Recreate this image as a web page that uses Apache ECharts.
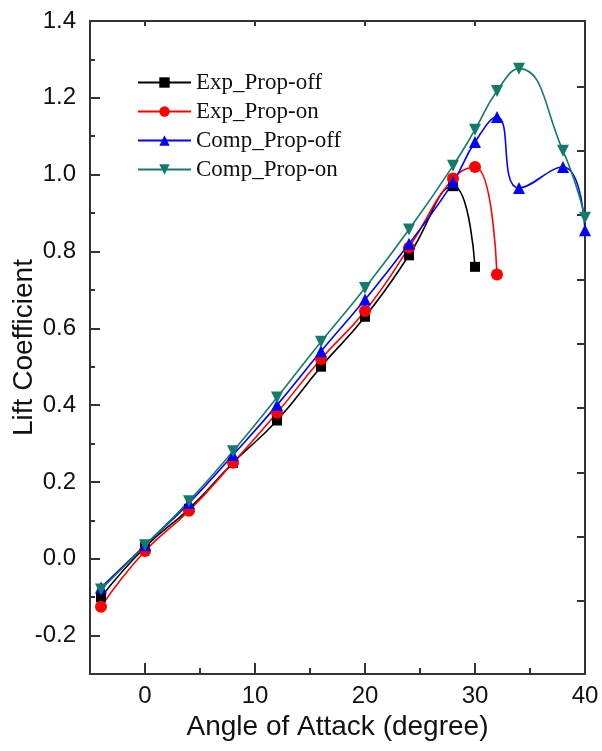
<!DOCTYPE html>
<html>
<head>
<meta charset="utf-8">
<script src="https://cdn.jsdelivr.net/npm/echarts@6/dist/echarts.min.js"></script>
<style>
html,body{margin:0;padding:0;background:#fff;}
#chart_lift{width:602px;height:751px;}
</style>
</head>
<body>
<div id="chart_lift"></div>
<script>
// angle of attack (degree)
var aoa = [-4, 0, 4, 8, 12, 16, 20, 24, 28, 30, 32, 34, 38, 40];
// lift coefficient per series
var expPropOff = [-0.10, 0.03, 0.13, 0.25, 0.36, 0.50, 0.63, 0.79, 0.97, 0.76];
var expPropOn = [-0.125, 0.02, 0.125, 0.25, 0.38, 0.52, 0.645, 0.81, 0.99, 1.02, 0.74];
var compPropOff = [-0.075, 0.035, 0.145, 0.27, 0.40, 0.54, 0.675, 0.82, 0.98, 1.085, 1.15, 0.965, 1.02, 0.855];
var compPropOn = [-0.08, 0.035, 0.15, 0.28, 0.42, 0.565, 0.705, 0.857, 1.023, 1.117, 1.218, 1.276, 1.062, 0.888];

var seriesNames = ['Exp_Prop-off', 'Exp_Prop-on', 'Comp_Prop-off', 'Comp_Prop-on'];
var seriesColors = ['#000000', '#ff0000', '#0000ff', '#137a6c'];
var seriesSymbols = ['rect', 'circle', 'triangle', 'path://M0,0 L10,0 L5,9 Z'];
var seriesSymbolSizes = [10, 12, 12, 12];

// tick labels / tick positions
var xTickLabels = [0, 10, 20, 30, 40];
var xMajorTicks = [0, 10, 20, 30];
var xMinorTicks = [5, 15, 25, 35];
var yTickLabels = [-0.2, 0.0, 0.2, 0.4, 0.6, 0.8, 1.0, 1.2, 1.4];
var yMinorTicks = [-0.1, 0.1, 0.3, 0.5, 0.7, 0.9, 1.1, 1.3];
var rightTicks = [-0.109, 0.058, 0.225, 0.393, 0.560, 0.727, 0.895, 1.062, 1.229];

var axisColor = '#333333';
var chartLift = echarts.init(document.getElementById('chart_lift'));

function pairs(vals) { //把数值和攻角配对
    return vals.map(function (v, i) { return [aoa[i], v]; });
}

function tickAxis(pos, ticks, len, showLine) {
    var horiz = pos == 'top' || pos == 'bottom';
    return {
        type: 'value', position: pos, min: horiz ? -5 : -0.3, max: horiz ? 40 : 1.4, offset: 0,
        axisLine: { show: showLine, onZero: false, lineStyle: { color: axisColor, width: 2 } },
        axisTick: { show: true, inside: true, length: len, customValues: ticks, lineStyle: { color: axisColor, width: 2 } },
        axisLabel: { show: false },
        splitLine: { show: false }
    };
}

var allData = [expPropOff, expPropOn, compPropOff, compPropOn];

var option = {
    animation: false,
    backgroundColor: '#ffffff',
    grid: { left: 90, right: 17, top: 21, bottom: 77, containLabel: false, outerBoundsMode: 'none' },
    legend: {
        orient: 'vertical', left: 132, top: 66,
        itemWidth: 53, itemHeight: 13, itemGap: 6,
        data: seriesNames,
        textStyle: { fontFamily: 'Liberation Serif', fontSize: 23, color: '#111' }
    },
    xAxis: [
        {
            type: 'value', position: 'bottom', min: -5, max: 40,
            name: 'Angle of Attack (degree)', nameLocation: 'middle', nameGap: 36,
            nameTextStyle: { fontFamily: 'Liberation Sans', fontSize: 28, color: '#111' },
            axisLine: { show: true, onZero: false, lineStyle: { color: axisColor, width: 2 } },
            axisTick: { inside: true, length: 11, customValues: xMajorTicks, lineStyle: { color: axisColor, width: 2 } },
            axisLabel: { customValues: xTickLabels, margin: 10, fontFamily: 'Liberation Sans', fontSize: 24, color: '#111' },
            splitLine: { show: false }
        },
        tickAxis('bottom', xMinorTicks, 6, false),
        tickAxis('top', xMajorTicks, 5, true)
    ],
    yAxis: [
        {
            type: 'value', position: 'left', min: -0.3, max: 1.4,
            name: 'Lift Coefficient', nameLocation: 'middle', nameGap: 52, nameMoveOverlap: false,
            nameTextStyle: { fontFamily: 'Liberation Sans', fontSize: 28, color: '#111' },
            axisLine: { show: true, onZero: false, lineStyle: { color: axisColor, width: 2 } },
            axisTick: { inside: true, length: 10, customValues: yTickLabels, lineStyle: { color: axisColor, width: 2 } },
            axisLabel: {
                customValues: yTickLabels, margin: 14, fontFamily: 'Liberation Sans', fontSize: 24, color: '#111',
                formatter: function (v) { return v.toFixed(1); }
            },
            splitLine: { show: false }
        },
        tickAxis('left', yMinorTicks, 5, false),
        tickAxis('right', rightTicks, 8, true)
    ],
    series: allData.map(function (d, i) {
        return {
            name: seriesNames[i], type: 'line', xAxisIndex: 0, yAxisIndex: 0,
            data: pairs(d), smooth: 0.5,
            symbol: seriesSymbols[i], symbolSize: seriesSymbolSizes[i],
            itemStyle: { color: seriesColors[i] },
            lineStyle: { color: seriesColors[i], width: 1.6 }
        };
    })
};

chartLift.setOption(option);
</script>
</body>
</html>
